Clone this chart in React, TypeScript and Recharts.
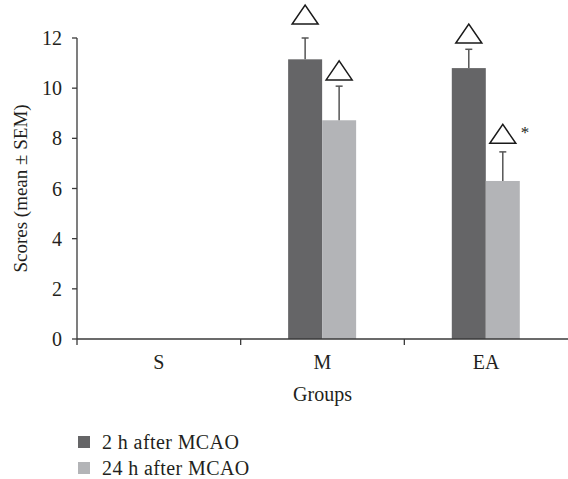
import React from "react";
import { BarChart, Bar, XAxis, YAxis } from "recharts";

const groups = ["S", "M", "EA"];
const after2h = [0, 11.15, 10.8];
const after24h = [0, 8.72, 6.3];
const sem2h = [0, 0.85, 0.75];
const sem24h = [0, 1.36, 1.16];
// triangle markers (bottom of the marker, in score units); null = none
const mark2h = [null, 12.56, 11.8];
const mark24h = [null, 10.33, 7.8];
const note24h = ["", "", "*"];
const yTicks = [0, 2, 4, 6, 8, 10, 12];

const FONT = "'Liberation Serif', 'Times New Roman', serif";
const TEXT = "#231f20";
const AXIS = "#3a3a3a";
const DARK = "#656567";
const LIGHT = "#b3b4b7";

const data = groups.map((g, i) => ({
  group: g,
  h2: after2h[i],
  h24: after24h[i],
  e2: sem2h[i],
  e24: sem24h[i],
  m2: mark2h[i],
  m24: mark24h[i],
  n24: note24h[i],
}));

// bar + upward SEM whisker + triangle marker, all placed from the bar's own scale
const barWithMark = (valueKey: string, errKey: string, markKey: string, noteKey?: string) =>
  (props: any) => {
    const { x, y, width, height, fill, payload } = props;
    const v = payload[valueKey];
    if (!(v > 0) || !(height > 0)) return <g />;
    const perUnit = height / v;
    const base = y + height;
    const cx = x + width / 2;
    const err = payload[errKey] || 0;
    const errTop = y - err * perUnit;
    const mark = payload[markKey];
    const note = noteKey ? payload[noteKey] : "";
    const hw = 13;
    const th = 19;
    const mb = mark != null ? base - mark * perUnit : 0;
    return (
      <g>
        <rect x={x} y={y} width={width} height={height} fill={fill} />
        {err > 0 ? (
          <g stroke="#555" strokeWidth={1.5}>
            <line x1={cx} y1={y} x2={cx} y2={errTop} />
            <line x1={cx - 3.5} y1={errTop} x2={cx + 3.5} y2={errTop} />
          </g>
        ) : null}
        {mark != null ? (
          <path
            d={`M${cx - hw},${mb} L${cx + hw},${mb} L${cx},${mb - th} Z`}
            fill="#fff"
            stroke="#1a1a1a"
            strokeWidth={1.5}
          />
        ) : null}
        {note ? (
          <text x={cx + hw + 5} y={mb - th + 14} fontFamily={FONT} fontSize={17} fill={TEXT}>
            {note}
          </text>
        ) : null}
      </g>
    );
  };

const GroupTick = (props: any) => {
  const { x, y, payload, width, visibleTicksCount } = props;
  const off = payload.offset ?? width / visibleTicksCount / 2;
  return (
    <g>
      <line x1={x - off} y1={y} x2={x - off} y2={y + 6} stroke={AXIS} strokeWidth={1.3} />
      <text x={x} y={y + 30} textAnchor="middle" fontFamily={FONT} fontSize={20} fill={TEXT}>
        {payload.value}
      </text>
    </g>
  );
};

const YLabel = (props: any) => {
  const vb = props.viewBox || {};
  const cy = vb.y + vb.height / 2;
  return (
    <text
      x={20}
      y={cy}
      transform={`rotate(-90, 20, ${cy})`}
      textAnchor="middle"
      dominantBaseline="central"
      fontFamily={FONT}
      fontSize={19}
      fill={TEXT}
    >
      Scores (mean ± SEM)
    </text>
  );
};

const legendRows = [
  { c: DARK, t: "2 h after MCAO" },
  { c: LIGHT, t: "24 h after MCAO" },
];

export default function App() {
  return (
    <div style={{ position: "absolute", left: 0, top: 0, width: 568, height: 479, background: "#fff" }}>
      <BarChart
        width={568}
        height={479}
        data={data}
        margin={{ top: 38, right: 0, bottom: 80, left: 0 }}
        barCategoryGap="29%"
        barGap={0}
      >
        <XAxis
          dataKey="group"
          height={60}
          axisLine={{ stroke: AXIS, strokeWidth: 1.3 }}
          tickLine={false}
          tickSize={0}
          tickMargin={0}
          tick={<GroupTick />}
          interval={0}
          label={{
            value: "Groups",
            position: "insideBottom",
            offset: -2,
            fill: TEXT,
            fontSize: 20,
            fontFamily: FONT,
          }}
        />
        <YAxis
          width={77}
          domain={[0, 12]}
          ticks={yTicks}
          interval={0}
          axisLine={{ stroke: AXIS, strokeWidth: 1.3 }}
          tickLine={{ stroke: AXIS, strokeWidth: 1.3 }}
          tickSize={5}
          tickMargin={10}
          tick={{ fill: TEXT, fontSize: 20, fontFamily: FONT }}
          label={<YLabel />}
        />
        <Bar dataKey="h2" fill={DARK} isAnimationActive={false} shape={barWithMark("h2", "e2", "m2")} />
        <Bar dataKey="h24" fill={LIGHT} isAnimationActive={false} shape={barWithMark("h24", "e24", "m24", "n24")} />
      </BarChart>
      <div
        style={{
          position: "absolute",
          left: 78,
          top: 429,
          fontFamily: FONT,
          fontSize: 20,
          letterSpacing: 0.4,
          color: TEXT,
        }}
      >
        {legendRows.map((r) => (
          <div key={r.t} style={{ display: "flex", alignItems: "center", height: 26 }}>
            <span style={{ width: 12, height: 12, background: r.c, display: "inline-block", marginRight: 12 }} />
            <span>{r.t}</span>
          </div>
        ))}
      </div>
    </div>
  );
}
